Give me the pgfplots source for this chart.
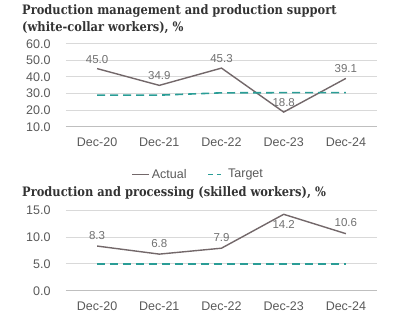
\documentclass[border=0pt]{standalone}
\usepackage{pgfplots}
\pgfplotsset{compat=1.18}
\usepackage{fontspec}
\setmainfont{Liberation Sans}
\newfontfamily\titlefont[FakeStretch=0.88]{DejaVu Serif}
\definecolor{actualc}{HTML}{73686A}
\definecolor{targetc}{HTML}{2A9D96}
\definecolor{gridc}{HTML}{D9D9D9}
\definecolor{axisc}{HTML}{BFBFBF}
\definecolor{tickc}{HTML}{595959}
\definecolor{labc}{HTML}{707070}
\definecolor{titlec}{HTML}{333333}
\pgfplotsset{
  common/.style={
    scale only axis,
    width=311pt,
    xmin=-0.5, xmax=4.5,
    xtick={0,1,2,3,4},
    xticklabels={Dec-20,Dec-21,Dec-22,Dec-23,Dec-24},
    major x tick style={draw=none},
    extra x ticks={-0.5,0.5,1.5,2.5,3.5,4.5},
    extra x tick labels={},
    extra x tick style={grid=none, major tick length=9pt, tick align=outside, tick style={draw=axisc, line width=0.8pt}},
    axis x line*=bottom,
    axis y line*=left,
    y axis line style={draw=none},
    x axis line style={draw=axisc, line width=0.8pt, -},
    ymajorgrids,
    grid style={draw=gridc, line width=0.8pt},
    ytick style={draw=none},
    tick label style={font=\fontsize{12.5}{12.5}\selectfont, color=tickc},
    yticklabel style={xshift=-12pt, /pgf/number format/.cd, fixed, fixed zerofill, precision=1, assume math mode=true},
    xticklabel style={yshift=-7.5pt},
    clip=false,
  },
  actual/.style={color=actualc, line width=1.4pt, mark=none},
  target/.style={color=targetc, line width=1.6pt, mark=none, dash pattern=on 8pt off 5pt},
  labs/.style={draw=none, mark=none, nodes near coords, point meta=explicit symbolic,
     every node near coord/.append style={font=\fontsize{11.5}{11.5}\selectfont, color=labc, anchor=center, yshift=#1}},
}
\begin{document}
\begin{tikzpicture}[x=1pt,y=1pt]
\path (0,0) rectangle (400,330);
\node[anchor=base west, inner sep=0, font=\titlefont\bfseries\fontsize{13}{13}\selectfont, color=titlec] at (22,315) {Production management and production support};
\node[anchor=base west, inner sep=0, font=\titlefont\bfseries\fontsize{13}{13}\selectfont, color=titlec] at (22,298.5) {(white-collar workers), \%};
\node[anchor=base west, inner sep=0, font=\titlefont\bfseries\fontsize{13}{13}\selectfont, color=titlec] at (22,133.5) {Production and processing (skilled workers), \%};

\begin{axis}[common, at={(66pt,203.3pt)}, height=83pt, ymin=10, ymax=60,
  ytick={10,20,30,40,50,60},
  legend columns=2,
  legend style={at={(0.425,-0.575)}, anchor=center, draw=none, fill=none,
    font=\fontsize{12.5}{12.5}\selectfont, text=tickc,
    /tikz/every even column/.append style={column sep=19pt}},
  legend image code/.code={\draw[#1] (0pt,0pt) -- (17pt,0pt);},
]
\addplot[actual] coordinates {(0,45.0) (1,34.9) (2,45.3) (3,18.8) (4,39.1)};
\addlegendentry{Actual}
\addplot[target, legend image post style={dash pattern=on 4.5pt off 4pt}] coordinates {(0,29.0) (1,29.0) (2,30.4) (3,30.5) (4,30.5)};
\addlegendentry{Target}
\addplot[labs=9.5pt, forget plot] coordinates {(0,45.0) [45.0] (1,34.9) [34.9] (2,45.3) [45.3] (3,18.8) [18.8] (4,39.1) [39.1]};
\end{axis}

\begin{axis}[common, at={(66pt,39.3pt)}, height=80.7pt, ymin=0, ymax=15,
  ytick={0,5,10,15},
]
\addplot[actual] coordinates {(0,8.3) (1,6.8) (2,7.9) (3,14.2) (4,10.6)};
\addplot[target] coordinates {(0,5.0) (1,5.0) (2,5.0) (3,5.0) (4,5.0)};
\addplot[labs=11pt] coordinates {(0,8.3) [8.3] (1,6.8) [6.8] (2,7.9) [7.9] (4,10.6) [10.6]};
\addplot[labs=-10pt] coordinates {(3,14.2) [14.2]};
\end{axis}
\end{tikzpicture}
\end{document}
